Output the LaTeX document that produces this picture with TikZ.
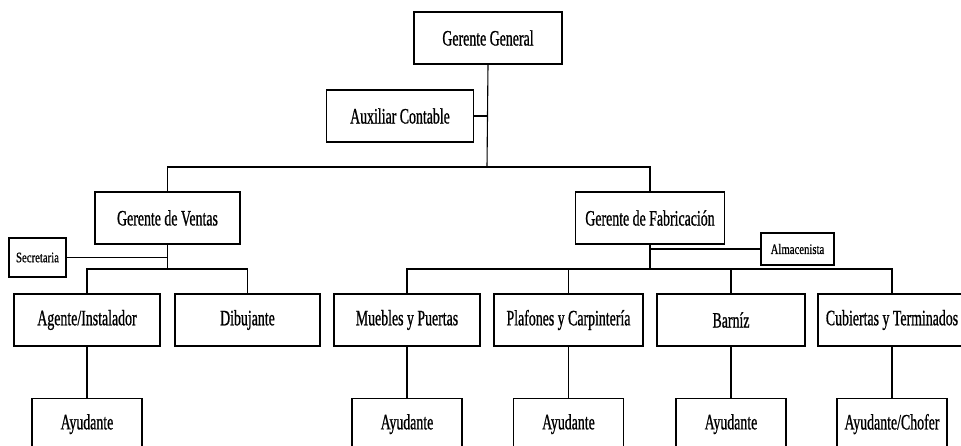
\documentclass[tikz,border=0pt]{standalone}
\usepackage{fontspec}
\setmainfont{Liberation Serif}
\newfontfamily\orgfont[FakeStretch=0.63,FakeBold=0.8]{Liberation Serif}
\newfontfamily\orgsmall[FakeStretch=0.74,FakeBold=0.6]{Liberation Serif}
\usetikzlibrary{positioning}
\tikzset{
  puesto/.style={draw,line width=1.1pt,minimum width=148pt,minimum height=52pt,inner sep=0pt,font=\orgfont\fontsize{22}{24}\selectfont},
  ayud/.style={puesto,minimum width=110pt},
  apoyo/.style={draw,line width=1.1pt,inner sep=0pt,font=\orgsmall\fontsize{14.5}{16}\selectfont},
  linea/.style={line width=1.1pt}
}
\begin{document}
\begin{tikzpicture}[x=1pt,y=1pt]
  \clip (0,0) rectangle (961,-446);
  % direccion
  \node[puesto] (gg) at (488,-38) {Gerente General};
  \node[puesto,minimum width=147pt] (aux) at (400,-116) {Auxiliar Contable};
  \node[puesto,minimum width=145pt] (gv) at (167.5,-218) {Gerente de Ventas};
  \node[puesto,minimum width=149pt] (gf) at (650,-218) {Gerente de Fabricación};
  \node[apoyo,minimum width=57pt,minimum height=39pt] (sec) at (37.5,-257.5) {Secretaria};
  \node[apoyo,minimum width=73pt,minimum height=32pt] (alm) at (797.5,-249) {Almacenista};
  % departamentos
  \node[puesto,minimum width=146pt] (agente) at (87,-320) {Agente/Instalador};
  \node[puesto,minimum width=145pt] (dib) at (247.5,-320) {Dibujante};
  \node[puesto,minimum width=146pt] (mueb) at (407,-320) {Muebles y Puertas};
  \node[puesto,minimum width=149pt] (plaf) at (568.5,-320) {Plafones y Carpintería};
  \node[puesto] (barniz) at (731,-320) {Barníz};
  \node[puesto] (cub) at (892,-320) {Cubiertas y Terminados};
  % ayudantes
  \node[ayud,below=51pt of agente] (ay1) {Ayudante};
  \node[ayud,below=51pt of mueb] (ay2) {Ayudante};
  \node[ayud,below=51pt of plaf] (ay3) {Ayudante};
  \node[ayud,below=51pt of barniz] (ay4) {Ayudante};
  \node[ayud,below=51pt of cub] (ay5) {Ayudante/Chofer};
  % conexiones
  \coordinate (bus) at (487,-167);
  \coordinate (busv) at (167.5,-269);
  \coordinate (busf) at (650,-269);
  \draw[linea] (gg.south) -- (bus);
  \draw[linea] (aux.east) -- (aux.east -| gg.south);
  \draw[linea] (gv.north) |- (bus) -| (gf.north);
  \draw[linea] (gv.south) -- (busv);
  \draw[linea] (sec.east) -- (sec.east -| gv.south);
  \draw[linea] (agente.north) |- (busv) -| (dib.north);
  \draw[linea] (gf.south) -- (busf);
  \draw[linea] (alm.west) -- (alm.west -| gf.south);
  \draw[linea] (mueb.north) |- (busf) -| (cub.north);
  \draw[linea] (plaf.north) -- (plaf.north |- busf);
  \draw[linea] (barniz.north) -- (barniz.north |- busf);
  \draw[linea] (agente) -- (ay1);
  \draw[linea] (mueb) -- (ay2);
  \draw[linea] (plaf) -- (ay3);
  \draw[linea] (barniz) -- (ay4);
  \draw[linea] (cub) -- (ay5);
\end{tikzpicture}
\end{document}
